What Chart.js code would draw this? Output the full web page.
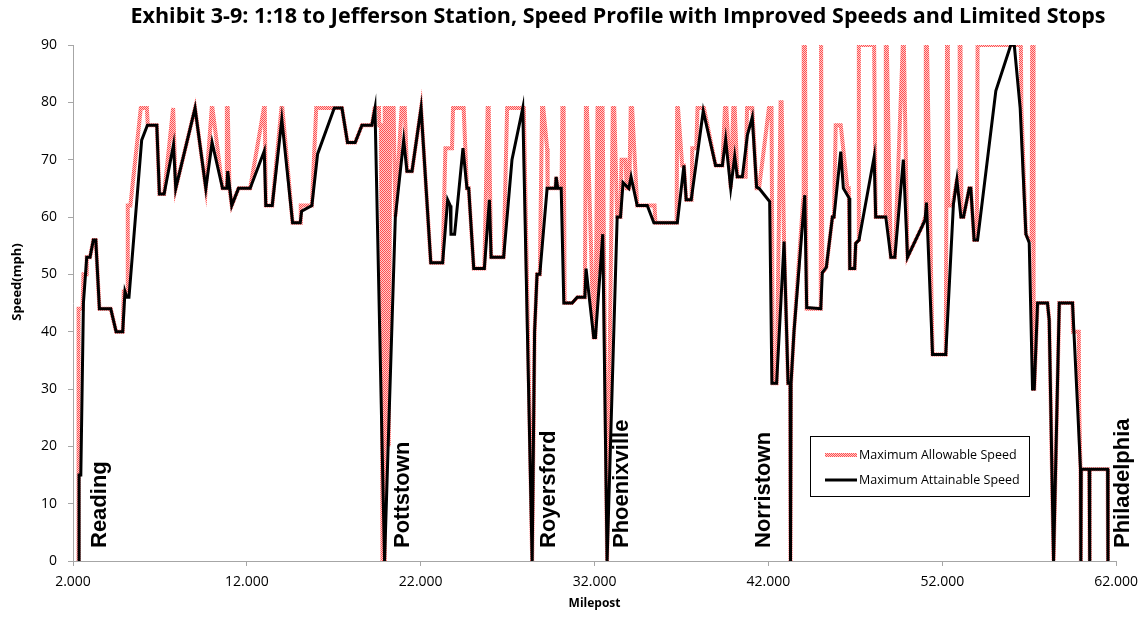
<!DOCTYPE html>
<html>
<head>
<meta charset="utf-8">
<title>Exhibit 3-9 Speed Profile</title>
<script src="https://cdn.jsdelivr.net/npm/chart.js@4.4.1/dist/chart.umd.min.js"></script>
<style>
  html, body { margin: 0; padding: 0; background: #fff; }
  #wrap { width: 1146px; height: 617px; }
</style>
</head>
<body>
<div id="wrap"><canvas id="speedChart" width="1146" height="617"></canvas></div>
<script>
// milepost ticks on the x axis
const xTickValues = [2, 12, 22, 32, 42, 52, 62];

// Maximum Attainable Speed (black line)
const attainMile = [
  2.35, 2.35, 2.45, 2.6, 2.79, 2.98, 3.17, 3.31, 3.52, 4.17,
  4.48, 4.86, 4.99, 5.1, 5.22, 5.95, 6.28, 6.82, 6.97, 7.24,
  7.78, 7.91, 9.02, 9.64, 10.0, 10.6, 10.85, 10.9, 11.13, 11.52,
  12.19, 13.0, 13.09, 13.46, 14.01, 14.63, 15.07, 15.15, 15.74, 16.07,
  17.03, 17.47, 17.79, 18.23, 18.62, 19.19, 19.37, 19.92, 20.54, 21.02,
  21.21, 21.5, 22.02, 22.58, 23.26, 23.55, 23.7, 23.74, 23.95, 24.43,
  24.66, 24.76, 25.05, 25.66, 25.95, 26.05, 26.77, 27.25, 27.87, 28.41,
  28.55, 28.69, 28.85, 29.27, 29.75, 29.79, 29.88, 30.08, 30.23, 30.71,
  31.0, 31.44, 31.51, 31.95, 32.05, 32.47, 32.72, 33.3, 33.49, 33.64,
  33.97, 34.1, 34.45, 35.03, 35.41, 36.76, 37.14, 37.27, 37.56, 38.25,
  38.96, 39.35, 39.54, 39.83, 40.06, 40.21, 40.5, 40.79, 41.07, 41.32,
  41.46, 42.07, 42.2, 42.47, 42.9, 43.13, 43.25, 43.27, 43.3, 43.47,
  44.09, 44.2, 45.01, 45.1, 45.33, 45.68, 45.77, 46.16, 46.31, 46.64,
  46.68, 46.96, 47.02, 47.21, 48.08, 48.17, 48.75, 49.04, 49.27, 49.76,
  50.0, 50.86, 51.01, 51.09, 51.44, 52.2, 52.64, 52.84, 53.07, 53.22,
  53.55, 53.64, 53.83, 54.03, 55.08, 55.94, 56.14, 56.48, 56.81, 57.0,
  57.19, 57.29, 57.48, 58.05, 58.15, 58.4, 58.73, 59.49, 59.78, 59.95,
  59.97, 59.99, 60.45, 60.47, 60.49, 61.51, 61.53
];
const attainSpeed = [
  0, 15, 15, 45, 53, 53, 56, 56, 44, 44,
  40, 40, 47, 46, 46, 73.4, 76, 76, 64, 64,
  72.6, 65, 79, 65, 73, 65, 65, 68, 62, 65,
  65, 71.5, 62, 62, 77, 59, 59, 61, 62, 71,
  79, 79, 73, 73, 76, 76, 79, 0, 60, 73.4,
  68, 68, 79, 52, 52, 63, 62, 57, 57, 72,
  65, 65, 51, 51, 63, 53, 53, 70, 79, 0,
  40, 50, 50, 65, 65, 67, 65, 65, 45, 45,
  46, 46, 51, 39, 39, 57, 0, 60, 60, 66,
  65, 67, 62, 62, 59, 59, 69, 63, 63, 78.5,
  69, 69, 73.5, 65, 70.6, 67, 67, 74.3, 77.4, 65.2,
  65, 62.7, 31, 31, 55.7, 31, 31, 0, 31, 40,
  63.8, 44.2, 44, 50.3, 51.2, 60, 60, 71.4, 65, 63.3,
  51, 51, 55.4, 56, 70.5, 60, 60, 53, 53, 70,
  53, 58.5, 59.5, 62.5, 36, 36, 62.2, 66.5, 60, 60,
  65, 65, 56, 56, 82, 90, 90, 79, 57, 55.5,
  30, 30, 45, 45, 42, 0, 45, 45, 27, 16,
  0, 16, 16, 0, 16, 16, 0
];

// Maximum Allowable Speed (red hatched line)
const allowMile = [
  2.3, 2.32, 2.55, 2.6, 2.75, 2.79, 2.98, 3.17, 3.31, 3.52,
  4.17, 4.48, 4.86, 4.92, 5.12, 5.15, 5.3, 5.9, 6.25, 6.3,
  6.82, 6.97, 7.24, 7.76, 7.8, 7.91, 9.02, 9.64, 9.98, 10.02,
  10.6, 10.83, 10.85, 10.9, 11.0, 11.13, 11.52, 12.19, 12.98, 13.03,
  13.09, 13.46, 13.99, 14.04, 14.63, 15.07, 15.1, 15.74, 15.99, 17.47,
  17.79, 18.23, 18.62, 19.19, 19.35, 19.6, 19.62, 19.72, 19.8, 19.92,
  19.93, 20.1, 20.16, 20.25, 20.44, 20.54, 20.9, 21.08, 21.21, 21.5,
  22.02, 22.58, 23.26, 23.42, 23.8, 23.86, 24.47, 24.66, 24.76, 25.05,
  25.66, 25.85, 25.91, 26.05, 26.77, 26.97, 27.93, 28.41, 28.55, 28.69,
  28.85, 28.98, 29.05, 29.27, 29.3, 29.75, 29.79, 29.88, 30.1, 30.15,
  30.22, 30.28, 30.71, 31.0, 31.44, 31.5, 31.56, 31.95, 32.05, 32.17,
  32.23, 32.3, 32.4, 32.46, 32.72, 33.05, 33.13, 33.3, 33.49, 33.55,
  33.78, 33.85, 34.0, 34.08, 34.16, 34.45, 35.45, 35.5, 36.72, 36.75,
  36.8, 37.04, 37.14, 37.27, 37.58, 37.62, 37.85, 37.92, 38.29, 38.96,
  39.35, 39.5, 39.58, 39.83, 39.98, 40.06, 40.21, 40.69, 40.77, 41.07,
  41.32, 41.46, 42.03, 42.18, 42.25, 42.47, 42.7, 42.76, 42.9, 43.13,
  43.25, 43.27, 43.3, 43.47, 44.0, 44.03, 44.1, 44.2, 45.01, 45.03,
  45.08, 45.1, 45.33, 45.68, 45.77, 45.87, 46.16, 46.54, 46.62, 46.68,
  46.96, 47.02, 47.18, 47.2, 48.08, 48.17, 48.72, 48.75, 48.81, 49.04,
  49.27, 49.73, 49.79, 50.0, 50.86, 51.02, 51.05, 51.12, 51.44, 52.2,
  52.27, 52.32, 52.35, 52.59, 52.84, 52.98, 53.0, 53.05, 53.1, 53.22,
  53.55, 53.64, 53.83, 53.99, 54.03, 56.52, 56.55, 56.81, 57.0, 57.14,
  57.17, 57.22, 57.25, 57.29, 57.48, 58.05, 58.15, 58.4, 58.73, 59.49,
  59.52, 59.85, 59.87, 59.95, 59.97, 59.99, 60.45, 60.47, 60.49, 61.51,
  61.53
];
const allowSpeed = [
  0, 44, 44, 50, 50, 53, 53, 56, 56, 44,
  44, 40, 40, 47, 47, 62, 62, 79, 79, 76,
  76, 64, 64, 79, 79, 65, 79, 65, 79, 79,
  65, 65, 79, 79, 65, 62, 65, 65, 79, 79,
  62, 62, 79, 79, 59, 59, 62, 62, 79, 79,
  73, 73, 76, 76, 79, 79, 76, 76, 0, 0,
  79, 79, 20, 79, 79, 60, 79, 79, 68, 68,
  79, 52, 52, 72, 72, 79, 79, 65, 65, 51,
  51, 79, 79, 53, 53, 79, 79, 0, 40, 50,
  50, 79, 79, 72, 65, 65, 67, 65, 65, 79,
  79, 45, 45, 46, 46, 79, 79, 39, 39, 79,
  79, 50, 79, 79, 0, 79, 79, 60, 60, 70,
  70, 65, 65, 79, 79, 62, 62, 59, 59, 79,
  79, 69, 69, 63, 63, 72, 72, 79, 79, 69,
  69, 79, 79, 65, 79, 79, 67, 67, 79, 79,
  65, 65, 79, 79, 31, 31, 80, 80, 55.7, 31,
  31, 0, 31, 40, 63, 90, 90, 44, 44, 90,
  90, 50.3, 51.2, 60, 60, 76, 76, 65, 65, 51,
  51, 55.4, 56, 90, 90, 60, 60, 90, 90, 53,
  53, 90, 90, 53, 58.5, 60, 90, 90, 36, 36,
  90, 90, 62, 62, 66.5, 66.5, 90, 90, 60, 60,
  65, 65, 56, 56, 90, 90, 79, 57, 56, 56,
  90, 90, 30, 30, 45, 45, 42, 0, 45, 45,
  40, 40, 27, 16, 0, 16, 16, 0, 16, 16,
  0
];

// station names written along the bottom, at their mileposts
const stationNames = ['Reading', 'Pottstown', 'Royersford', 'Phoenixville', 'Norristown', 'Philadelphia'];
const stationMile = [3.55, 21.0, 29.37, 33.59, 41.75, 62.39];

const chartTitle = 'Exhibit 3-9: 1:18 to Jefferson Station, Speed Profile with Improved Speeds and Limited Stops';

// red dotted look of the allowable speed line
function makeHatch() {
  const c = document.createElement('canvas');
  c.width = 2; c.height = 2;
  const g = c.getContext('2d');
  g.fillStyle = '#ffcccc';
  g.fillRect(0, 0, 2, 2);
  g.fillStyle = '#ff5050';
  g.fillRect(0, 0, 1, 1);
  g.fillRect(1, 1, 1, 1);
  return g.createPattern(c, 'repeat');
}

const toPoints = (xs, ys) => xs.map((x, i) => ({ x: x, y: ys[i] }));

// title, y title, station names and the boxed legend
const decorPlugin = {
  id: 'decor',
  afterDatasetsDraw(chart) {
    const ctx = chart.ctx;
    const xs = chart.scales.x, ys = chart.scales.y;
    ctx.save();
    ctx.fillStyle = '#000';
    ctx.font = 'bold 22px "Liberation Sans", Arial, sans-serif';
    ctx.textAlign = 'left';
    ctx.textBaseline = 'middle';
    stationNames.forEach((name, i) => {
      const px = xs.getPixelForValue(stationMile[i]);
      const py = ys.getPixelForValue(0) - 13;
      ctx.save();
      ctx.translate(px, py);
      ctx.rotate(-Math.PI / 2);
      ctx.fillText(name, 0, 0);
      ctx.restore();
    });
    ctx.restore();
  },
  afterDraw(chart) {
    const ctx = chart.ctx;
    ctx.save();
    ctx.fillStyle = '#000';

    // chart title
    ctx.font = 'bold 21.5px "Open Sans", sans-serif';
    ctx.textAlign = 'center';
    ctx.textBaseline = 'middle';
    ctx.fillText(chartTitle, 618, 17);

    // y axis title
    ctx.save();
    ctx.translate(17, 282);
    ctx.rotate(-Math.PI / 2);
    ctx.font = 'bold 13px "Open Sans", sans-serif';
    ctx.fillText('Speed(mph)', 0, 0);
    ctx.restore();

    // legend box
    const lx = 810, ly = 436, lw = 219, lh = 60;
    ctx.fillStyle = '#fff';
    ctx.fillRect(lx, ly, lw, lh);
    ctx.strokeStyle = '#000';
    ctx.lineWidth = 1;
    ctx.strokeRect(lx + 0.5, ly + 0.5, lw, lh);
    ctx.font = '12.5px "Open Sans", sans-serif';
    ctx.textAlign = 'left';
    ctx.textBaseline = 'middle';
    chart.data.datasets.forEach((ds, i) => {
      const y = ly + 19 + i * 25;
      ctx.strokeStyle = ds.borderColor;
      ctx.lineWidth = ds.borderWidth;
      ctx.beginPath();
      ctx.moveTo(lx + 15, y);
      ctx.lineTo(lx + 47, y);
      ctx.stroke();
      ctx.fillStyle = '#000';
      ctx.fillText(ds.label, lx + 49, y);
    });
    ctx.restore();
  }
};

const ctx = document.getElementById('speedChart').getContext('2d');
new Chart(ctx, {
  type: 'line',
  data: {
    datasets: [
      {
        label: 'Maximum Allowable Speed',
        data: toPoints(allowMile, allowSpeed),
        borderColor: makeHatch(),
        borderWidth: 4,
        pointRadius: 0,
        tension: 0,
        order: 2
      },
      {
        label: 'Maximum Attainable Speed',
        data: toPoints(attainMile, attainSpeed),
        borderColor: '#000000',
        borderWidth: 3,
        pointRadius: 0,
        tension: 0,
        order: 1
      }
    ]
  },
  options: {
    responsive: false,
    animation: false,
    devicePixelRatio: 1,
    layout: { padding: { top: 45, right: 29, bottom: 0, left: 0 } },
    plugins: {
      legend: { display: false },
      title: { display: false },
      tooltip: { enabled: false }
    },
    scales: {
      x: {
        type: 'linear',
        min: 2,
        max: 62,
        afterBuildTicks: (s) => { s.ticks = xTickValues.map(v => ({ value: v })); },
        afterFit: (s) => { s.height = 56; },
        grid: { drawOnChartArea: false, tickLength: 5, color: '#a6a6a6' },
        border: { color: '#a6a6a6' },
        ticks: {
          color: '#000',
          font: { family: 'Open Sans', size: 14 },
          padding: 8,
          maxRotation: 0,
          autoSkip: false,
          callback: (v) => Number(v).toFixed(3)
        },
        title: {
          display: true,
          text: 'Milepost',
          color: '#000',
          font: { family: 'Open Sans', size: 12, weight: 'bold' },
          padding: { top: 0, bottom: 6 }
        }
      },
      y: {
        min: 0,
        max: 90,
        afterFit: (s) => { s.width = 73; },
        grid: { drawOnChartArea: false, tickLength: 5, color: '#a6a6a6' },
        border: { color: '#a6a6a6' },
        ticks: {
          stepSize: 10,
          color: '#000',
          font: { family: 'Open Sans', size: 14 },
          padding: 11
        }
      }
    }
  },
  plugins: [decorPlugin]
});
</script>
</body>
</html>
